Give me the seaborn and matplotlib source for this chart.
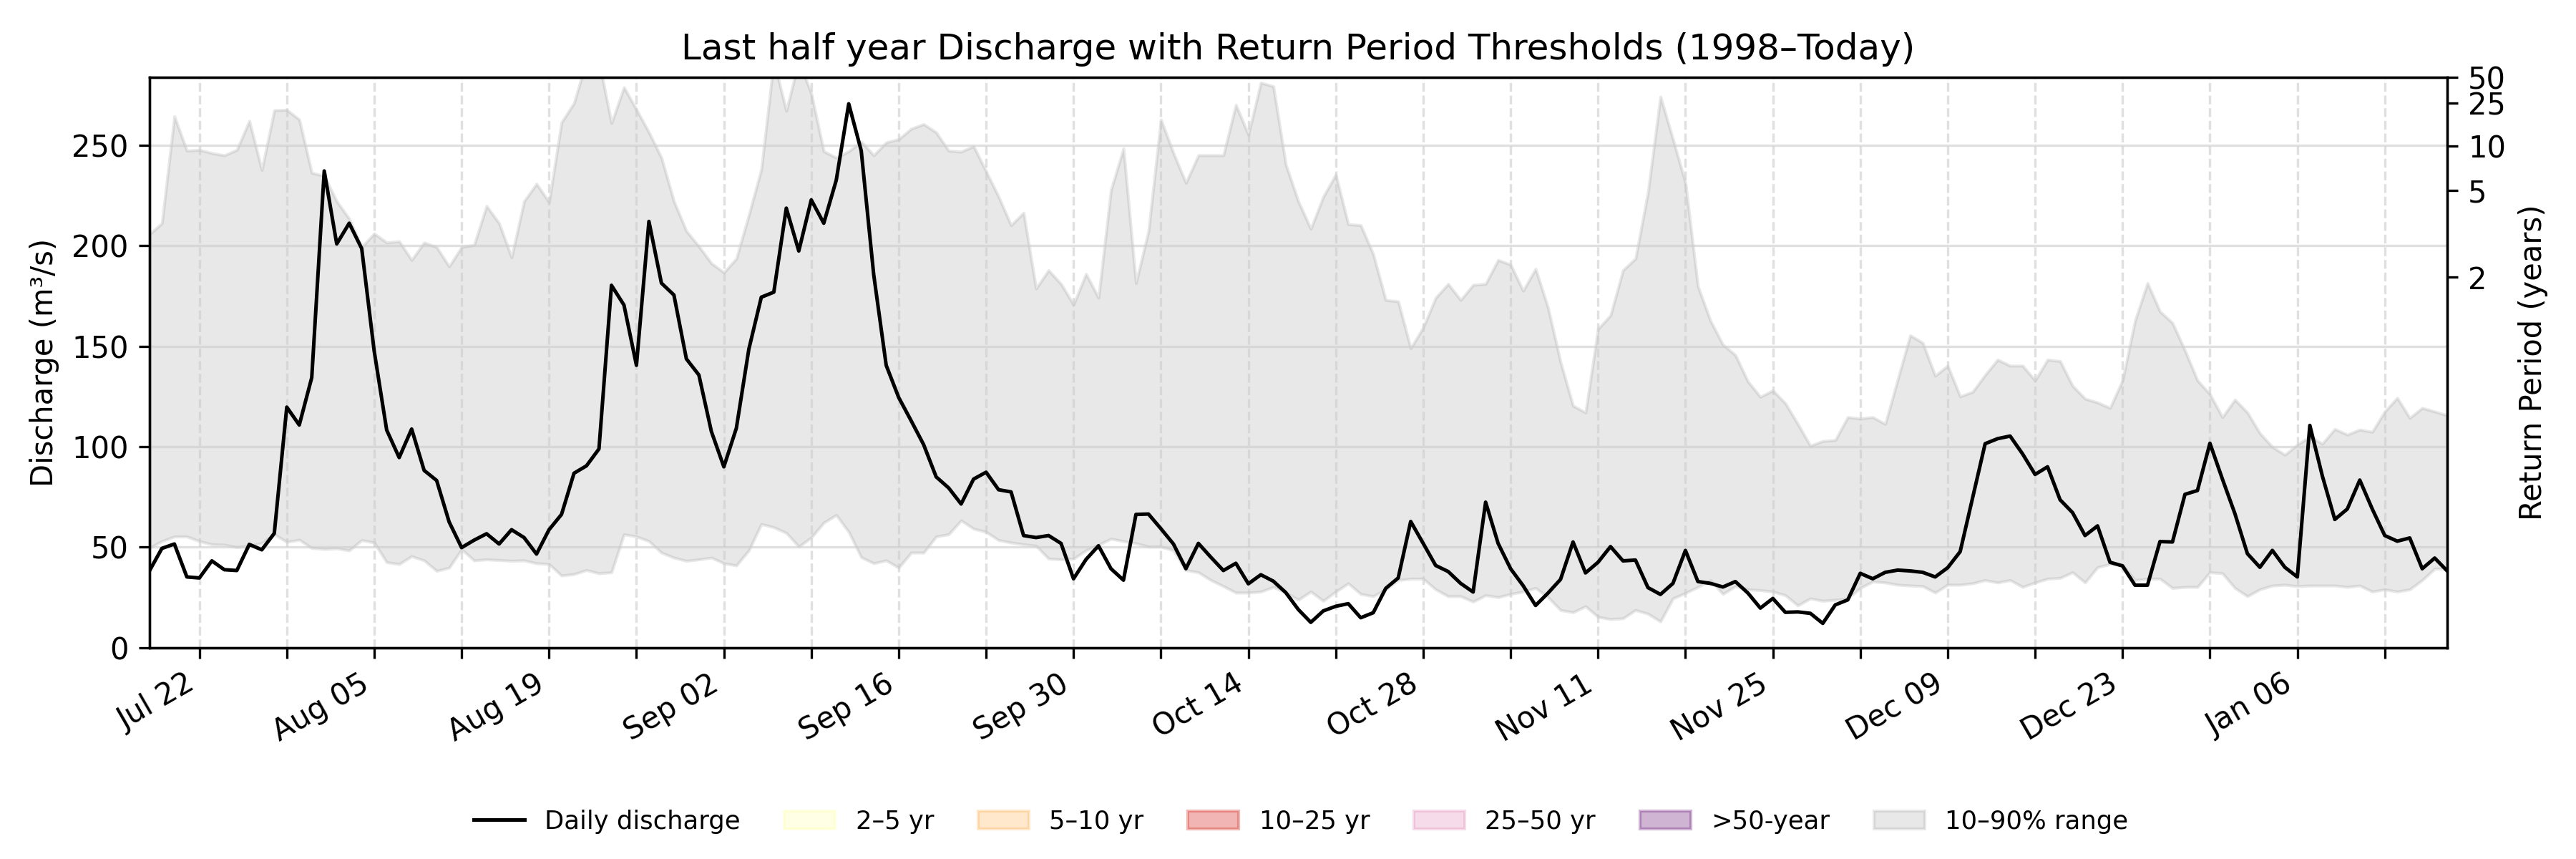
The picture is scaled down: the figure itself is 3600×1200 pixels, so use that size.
import numpy as np
import pandas as pd
import matplotlib
matplotlib.use("Agg")
import matplotlib.pyplot as plt
import matplotlib.dates as mdates
from matplotlib.patches import Patch
from matplotlib.lines import Line2D
import seaborn as sns

start_date = "2024-07-18"
end_date = "2025-01-18"

discharge = [
    # Jul 18-31
    38.2, 49.4, 51.6, 35.2, 34.7, 43.2, 38.8, 38.4, 51.4, 48.7, 56.9, 119.7, 110.8, 134.4,
    # Aug
    237.2, 200.9, 211.2, 198.6, 147.6, 108.3, 94.6, 108.8, 88.2, 83.2, 62.6, 49.8, 53.5, 56.7, 51.6,
    58.7, 54.8, 46.6, 58.7, 66.3, 86.8, 90.5, 98.9, 180.3, 170.5, 140.5, 212.1, 181.4, 175.5, 143.7, 135.7,
    # Sep
    107.6, 90.0, 109.2, 148.5, 174.4, 176.9, 218.7, 197.4, 222.8, 211.2, 232.6, 270.6, 247.3, 185.6, 140.5,
    124.5, 112.9, 101.0, 85.0, 79.5, 71.5, 83.9, 87.3, 78.6, 77.5, 55.8, 54.8, 55.8, 51.9, 34.3,
    # Oct
    43.9, 50.7, 39.3, 33.6, 66.3, 66.5, 59.2, 51.6, 39.3, 51.9, 45.0, 38.4, 42.0, 31.8, 36.3, 33.1,
    27.4, 19.0, 12.6, 18.3, 20.6, 21.9, 14.9, 17.4, 29.5, 34.7, 62.8, 51.9, 40.9, 37.9, 32.0,
    # Nov
    27.7, 72.4, 51.9, 39.3, 30.9, 21.0, 27.2, 34.0, 52.6, 37.2, 42.5, 50.3, 43.2, 43.6, 29.9,
    26.5, 32.0, 48.4, 32.9, 32.0, 30.2, 32.9, 27.2, 19.7, 24.5, 17.6, 17.8, 17.1, 12.1, 21.3,
    # Dec
    23.8, 37.0, 34.3, 37.5, 38.6, 38.2, 37.5, 35.2, 39.8, 47.8, 74.7, 101.5, 104.0, 105.3, 96.4, 86.2,
    90.0, 73.6, 67.2, 55.8, 60.6, 42.5, 40.7, 31.1, 31.1, 52.8, 52.6, 76.3, 78.2, 101.7, 83.9,
    # Jan 1-18
    66.7, 46.8, 40.0, 48.4, 40.0, 35.2, 110.6, 85.5, 63.8, 69.0, 83.4, 69.0, 55.8, 53.0, 54.6, 39.3, 44.6, 38.2,
]

q90 = [
    205.7, 211.2, 264.4, 247.3, 247.7, 246.1, 245.0, 247.7, 262.1, 237.7, 267.4, 267.6, 262.8, 236.3,
    234.7, 222.1, 213.4, 199.3, 206.1, 201.6, 202.2, 192.9, 201.6, 199.3, 189.7, 199.3, 200.4, 219.8, 211.2,
    194.2, 222.1, 230.8, 221.7, 261.4, 271.0, 292.0, 292.0, 261.0, 278.8, 267.8, 256.4, 243.8, 222.1, 207.3, 199.7,
    191.3, 186.7, 193.6, 215.3, 238.1, 292.0, 267.1, 292.0, 275.8, 247.0, 243.8, 247.0, 251.8, 245.0, 251.4,
    253.0, 258.2, 260.5, 256.4, 247.3, 246.8, 249.5, 237.0, 224.4, 210.2, 216.4, 178.7, 187.8, 181.0, 170.7,
    186.0, 174.1, 227.8, 248.4, 181.4, 207.3, 262.8, 246.1, 231.3, 245.0, 245.0, 245.0, 270.1, 255.3, 281.1, 279.3,
    240.4, 222.1, 208.4, 224.4, 235.4, 210.7, 210.2, 195.8, 173.0, 172.3, 149.0, 159.3, 174.1, 181.0, 173.0,
    180.5, 181.0, 192.9, 190.6, 177.6, 188.5, 169.1, 142.1, 120.4, 117.0, 158.6, 165.4, 187.8, 193.6, 226.7,
    274.2, 253.0, 231.3, 179.8, 162.7, 150.8, 145.6, 132.5, 124.8, 128.0, 121.6, 111.3, 100.5, 102.8, 103.3,
    114.7, 114.0, 114.7, 111.3, 133.5, 155.4, 151.7, 135.3, 140.3, 125.0, 127.3, 135.7, 143.3, 140.3, 140.3, 133.0,
    143.3, 142.6, 130.3, 123.9, 122.0, 119.3, 133.0, 162.7, 181.4, 167.3, 161.6, 147.9, 133.0, 126.1, 114.7,
    123.4, 117.0, 106.7, 99.9, 96.0, 101.0, 105.0, 101.5, 108.8, 106.0, 108.5, 107.4, 117.5, 124.3, 114.3, 119.3, 117.5, 115.6,
]

q10 = [
    49.6, 53.0, 55.3, 55.3, 53.0, 51.4, 51.2, 50.0, 50.7, 52.0, 56.4, 52.6, 53.7, 49.6,
    49.1, 49.4, 48.4, 53.5, 52.3, 42.5, 41.6, 45.5, 43.4, 38.2, 39.8, 48.9, 43.4, 43.9, 43.6,
    43.2, 43.4, 42.0, 41.6, 35.9, 36.6, 38.6, 37.0, 37.5, 56.4, 55.3, 53.0, 47.3, 44.8, 43.2, 43.9,
    44.8, 42.0, 40.9, 48.4, 61.5, 59.9, 57.1, 50.3, 54.8, 62.2, 66.0, 57.6, 45.0, 42.0, 43.4,
    39.8, 47.3, 47.3, 55.3, 56.4, 63.3, 59.2, 57.6, 53.5, 52.3, 51.4, 50.7, 44.3, 43.9, 44.3,
    48.4, 51.2, 54.2, 53.0, 51.9, 50.3, 50.3, 48.4, 38.6, 37.5, 33.6, 30.6, 27.4, 27.4, 27.9, 30.2,
    27.4, 23.8, 27.9, 23.3, 27.9, 32.0, 26.7, 25.6, 29.0, 33.6, 34.3, 34.3, 29.0, 25.6, 25.6,
    22.9, 26.1, 25.1, 26.7, 27.9, 29.7, 25.1, 18.7, 17.6, 20.6, 15.3, 14.2, 14.6, 18.7, 16.9,
    13.0, 24.5, 27.2, 30.2, 33.6, 26.7, 30.6, 29.0, 28.6, 27.9, 26.1, 21.0, 24.5, 23.3, 23.8,
    24.5, 29.7, 32.9, 32.4, 31.3, 30.9, 30.6, 27.4, 31.3, 31.3, 32.0, 33.6, 32.4, 33.6, 30.2, 32.4,
    34.3, 34.7, 37.5, 32.4, 40.0, 41.6, 41.1, 33.6, 34.3, 34.3, 29.7, 30.2, 30.2, 37.5, 37.0,
    29.7, 25.6, 29.0, 30.9, 31.3, 30.6, 30.9, 30.9, 30.9, 30.2, 30.9, 27.9, 29.0, 27.9, 29.0, 33.6, 39.3, 39.3,
]

# Return period thresholds (m³/s)
rp_years = [2, 5, 10, 25, 50]
rp_values = [184.4, 227.6, 249.5, 271.0, 283.8]

band_labels = ["2–5 yr", "5–10 yr", "10–25 yr", "25–50 yr", ">50-year"]
band_colors = ["yellow", "darkorange", "#d73027", "#de77ae", "#762a83"]
band_alphas = [0.1, 0.2, 0.35, 0.25, 0.35]

dates = pd.date_range(start_date, end_date, freq="D")
df = pd.DataFrame({"date": dates, "discharge": discharge, "q10": q10, "q90": q90})

fig, ax = plt.subplots(figsize=(12, 4), dpi=300)
fig.subplots_adjust(left=0.058, right=0.95, bottom=0.246, top=0.91)

ax.fill_between(df["date"], df["q10"], df["q90"], color="gray", alpha=0.18, linewidth=1.0)
sns.lineplot(data=df, x="date", y="discharge", color="black", linewidth=1.2, ax=ax, legend=False)

ax.set_xlim(dates[0], dates[-1])
ax.set_ylim(0, rp_values[-1])
ax.set_xlabel("")
ax.set_ylabel("Discharge (m³/s)")
ax.set_title("Last half year Discharge with Return Period Thresholds (1998–Today)", fontsize=12)

ax.xaxis.set_major_locator(mdates.WeekdayLocator(byweekday=mdates.MO, interval=2))
ax.xaxis.set_minor_locator(mdates.WeekdayLocator(byweekday=mdates.MO))
ax.xaxis.set_major_formatter(mdates.DateFormatter("%b %d"))
ax.tick_params(axis="x", which="minor", length=3.5, width=0.8)
for lbl in ax.get_xticklabels():
    lbl.set_rotation(30)
    lbl.set_ha("right")

ax.grid(True, axis="y", color="#cccccc", alpha=0.6, linewidth=0.8)
ax.grid(True, axis="x", which="both", color="#cccccc", alpha=0.6, linestyle="--", linewidth=0.8)

ax2 = ax.twinx()
ax2.set_ylim(ax.get_ylim())
ax2.set_yticks(rp_values)
ax2.set_yticklabels([str(y) for y in rp_years])
ax2.set_ylabel("Return Period (years)")

handles = [Line2D([0], [0], color="black", linewidth=1.2, label="Daily discharge")]
for lab, col, al in zip(band_labels, band_colors, band_alphas):
    handles.append(Patch(facecolor=col, edgecolor=col, alpha=al, label=lab))
handles.append(Patch(facecolor="gray", edgecolor="gray", alpha=0.18, label="10–90% range"))

fig.legend(handles=handles, loc="lower center", ncol=7, frameon=False, fontsize=8.5,
           bbox_to_anchor=(0.505, 0.003), columnspacing=1.75)

fig.savefig("out.png", dpi=300)
